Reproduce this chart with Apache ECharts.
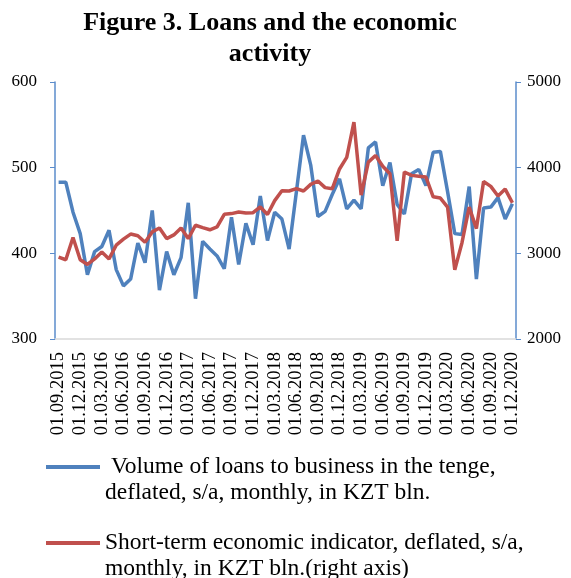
<!DOCTYPE html>
<html>
<head>
<meta charset="utf-8">
<script src="https://cdn.jsdelivr.net/npm/echarts@6/dist/echarts.min.js"></script>
<style>
  html, body { margin: 0; padding: 0; background: #fff; }
  #chart { width: 571px; height: 578px; }
</style>
</head>
<body>
<div id="chart"></div>
<script>
// monthly dates 01.09.2015 .. 01.12.2020
const months = []
for (let y = 2015, m = 9; y < 2021; ) {
  months.push('01.' + String(m).padStart(2, '0') + '.' + y)
  m++
  if (m > 12) { m = 1; y++ }
}

// loans to business, KZT bln (left axis)
const loans = [
  483, 483, 448, 423, 375, 402, 408, 427, 381, 362,
  370, 412, 389, 450, 357, 402, 375, 395, 459, 347,
  414, 405, 397, 382, 442, 387, 435, 410, 467, 415,
  448, 440, 405, 471, 538, 503, 443, 449, 469, 487,
  452, 462, 452, 523, 530, 479, 506, 457, 446, 493,
  498, 479, 518, 519, 472, 423, 422, 478, 370, 453,
  454, 465, 440, 458
]

// short-term economic indicator, KZT bln (right axis)
const indicator = [
  2955, 2925, 3185, 2925, 2870, 2935, 3015, 2935, 3095, 3165,
  3225, 3205, 3130, 3250, 3295, 3172, 3215, 3295, 3172, 3328,
  3300, 3275, 3308, 3456, 3464, 3483, 3472, 3474, 3541, 3454,
  3615, 3730, 3728, 3755, 3728, 3805, 3844, 3767, 3755, 3985,
  4120, 4532, 3680, 4065, 4143, 4017, 3930, 3145, 3949, 3910,
  3900, 3890, 3660, 3645, 3540, 2807, 3124, 3540, 3289, 3838,
  3782, 3670, 3750, 3590
]

const seriesNames = [
  ' Volume of loans to business in the tenge,\ndeflated, s/a, monthly, in KZT bln.',
  'Short-term economic indicator, deflated, s/a,\nmonthly, in KZT bln.(right axis)'
]

const serif = '"Liberation Serif", "Times New Roman", serif'
const axisBlue = '#5B8CCB'

// one legend per series so the line sits next to the first text line
function legendFor(name, top) {
  return {
    orient: 'vertical',
    left: 41,
    top: top,
    itemWidth: 54,
    itemHeight: 4,
    icon: 'rect',
    data: [name],
    formatter: (n) => '\n' + n,
    textStyle: { fontFamily: serif, fontSize: 23.5, lineHeight: 26, color: '#000' }
  }
}

const chart = echarts.init(document.getElementById('chart'))
chart.setOption({
  animation: false,
  title: {
    text: 'Figure 3. Loans and the economic\nactivity',
    left: 265,
    top: 3,
    textAlign: 'center',
    textStyle: { fontFamily: serif, fontSize: 26, fontWeight: 'bold', lineHeight: 31, color: '#000' }
  },
  legend: [legendFor(seriesNames[0], 423), legendFor(seriesNames[1], 499)],
  grid: { left: 55, right: 55, top: 82, bottom: 239 },
  xAxis: {
    type: 'category',
    data: months,
    boundaryGap: true,
    axisLine: { lineStyle: { color: '#D9D9D9', width: 1.5 } },
    axisTick: { show: false },
    axisLabel: {
      interval: 2,
      rotate: 90,
      margin: 13,
      fontFamily: serif,
      fontSize: 18.5,
      color: '#000'
    }
  },
  yAxis: [{
    type: 'value',
    min: 300,
    max: 600,
    interval: 100,
    splitLine: { show: false },
    axisLine: { show: true, lineStyle: { color: axisBlue, width: 1.5 } },
    axisTick: { show: true, length: 5, lineStyle: { color: axisBlue } },
    axisLabel: { margin: 18, fontFamily: serif, fontSize: 17, color: '#000' }
  }, {
    type: 'value',
    min: 2000,
    max: 5000,
    interval: 1000,
    position: 'right',
    splitLine: { show: false },
    axisLine: { show: true, lineStyle: { color: axisBlue, width: 1.5 } },
    axisTick: { show: true, length: 5, lineStyle: { color: axisBlue } },
    axisLabel: { margin: 11, fontFamily: serif, fontSize: 17, color: '#000', formatter: (v) => String(v) }
  }],
  series: [{
    name: seriesNames[0],
    type: 'line',
    data: loans,
    yAxisIndex: 0,
    symbol: 'none',
    color: '#4F81BD',
    lineStyle: { width: 3.5, color: '#4F81BD' }
  }, {
    name: seriesNames[1],
    type: 'line',
    data: indicator,
    yAxisIndex: 1,
    symbol: 'none',
    color: '#C0504D',
    lineStyle: { width: 3.5, color: '#C0504D' }
  }]
})
</script>
</body>
</html>
